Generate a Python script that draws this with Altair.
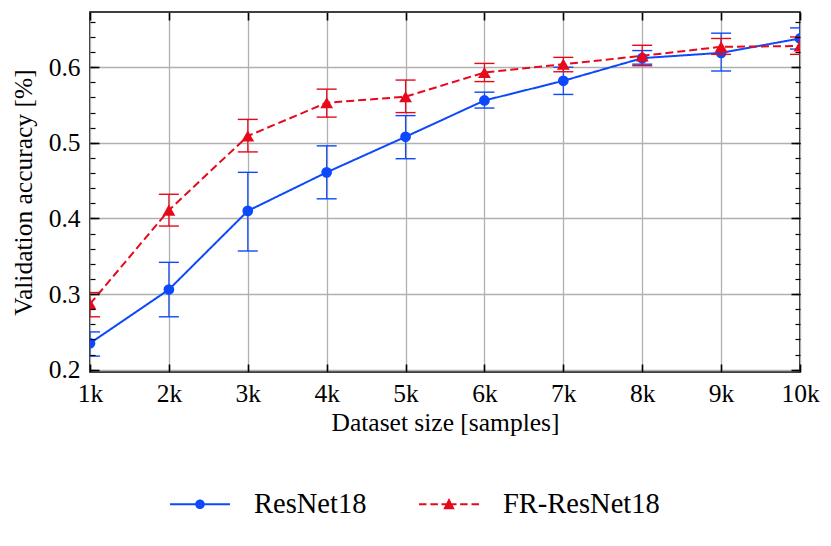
import altair as alt
import pandas as pd

# ---------------- data ----------------
sizes = [1000, 2000, 3000, 4000, 5000, 6000, 7000, 8000, 9000, 10000]

resnet_mean = [0.235, 0.306, 0.410, 0.461, 0.508, 0.556, 0.582, 0.612, 0.619, 0.638]
resnet_lo   = [0.218, 0.270, 0.357, 0.426, 0.479, 0.546, 0.564, 0.604, 0.595, 0.624]
resnet_hi   = [0.250, 0.342, 0.461, 0.496, 0.536, 0.567, 0.600, 0.622, 0.645, 0.652]

fr_mean = [0.287, 0.411, 0.509, 0.553, 0.561, 0.593, 0.604, 0.615, 0.627, 0.628]
fr_lo   = [0.270, 0.390, 0.488, 0.534, 0.540, 0.581, 0.594, 0.602, 0.617, 0.617]
fr_hi   = [0.302, 0.432, 0.531, 0.571, 0.583, 0.605, 0.613, 0.629, 0.638, 0.640]

series_names = ["ResNet18", "FR-ResNet18"]
series_colors = ["#0d49fb", "#e6091c"]

x_ticks = [1000, 2000, 3000, 4000, 5000, 6000, 7000, 8000, 9000, 10000]
y_major = [0.2, 0.3, 0.4, 0.5, 0.6]
y_minor = [0.2, 0.22, 0.24, 0.26, 0.28, 0.3, 0.32, 0.34, 0.36, 0.38, 0.4,
           0.42, 0.44, 0.46, 0.48, 0.5, 0.52, 0.54, 0.56, 0.58, 0.6, 0.62,
           0.64, 0.66]

FONT = "Liberation Serif"
XDOM = [1000, 10000]
YDOM = [0.197, 0.673]

xs = alt.Scale(domain=XDOM, nice=False, zero=False)
ys = alt.Scale(domain=YDOM, nice=False, zero=False)

# legend symbol paths (line + marker), unit box [-1,1]
P_RES = ("M-1,-0.035H1V0.035H-1Z "
         "M-0.16,0A0.16,0.16 0 1,1 0.16,0A0.16,0.16 0 1,1 -0.16,0Z")
P_FR = ("M-1,-0.035H-0.75V0.035H-1Z "
        "M-0.62,-0.035H-0.37V0.035H-0.62Z "
        "M-0.25,-0.035H0.25V0.035H-0.25Z "
        "M0.37,-0.035H0.62V0.035H0.37Z "
        "M0.75,-0.035H1V0.035H0.75Z "
        "M0,-0.21L0.19,0.17L-0.19,0.17Z")

# ---------------- axes ----------------
ax_x_main = alt.Axis(values=x_ticks, labelExpr="datum.value/1000 + 'k'",
                     title="Dataset size [samples]", grid=True, ticks=False,
                     domain=False, labelPadding=9, titlePadding=4,
                     labelFlush=False, labelOverlap=False, orient="bottom")
ax_y_main = alt.Axis(values=y_major, format=".1f",
                     title="Validation accuracy [%]", grid=True, ticks=False,
                     domain=False, labelPadding=10, titlePadding=12,
                     labelFlush=False, labelOverlap=False, orient="left")


def tick_axis(orient, values, size, width):
    return alt.Axis(orient=orient, values=values, labels=False, title=None,
                    grid=False, domain=False, ticks=True, tickSize=size,
                    tickWidth=width, tickColor="black", offset=-size, zindex=1)


ax_x_bot = tick_axis("bottom", x_ticks, 8, 1.6)
ax_x_top = tick_axis("top", x_ticks, 8, 1.6)
ax_y_lmaj = tick_axis("left", y_major, 9, 1.6)
ax_y_lmin = tick_axis("left", y_minor, 5, 1.2)
ax_y_rmaj = tick_axis("right", y_major, 9, 1.6)
ax_y_rmin = tick_axis("right", y_minor, 5, 1.2)

axis_plan = [
    (ax_x_main, ax_y_main),
    (ax_x_bot, ax_y_lmaj),
    (ax_x_top, ax_y_lmin),
    (None, ax_y_rmaj),
    (None, ax_y_rmin),
]


def series_layers(mean, lo, hi, color, shape, psize, dash, plan):
    df = pd.DataFrame({"size": sizes, "mean": mean, "lo": lo, "hi": hi})
    base = alt.Chart(df)
    layers = []

    def ax(i, k):
        if i < len(plan) and plan[i][k] is not None:
            return plan[i][k]
        return None

    def X(field, i):
        a = ax(i, 0)
        if a is None:
            return alt.X(field, type="quantitative", scale=xs, axis=None)
        return alt.X(field, type="quantitative", scale=xs, axis=a)

    def Y(field, i):
        a = ax(i, 1)
        if a is None:
            return alt.Y(field, type="quantitative", scale=ys, axis=None)
        return alt.Y(field, type="quantitative", scale=ys, axis=a)

    layers.append(base.mark_rule(color=color, strokeWidth=1.2, clip=True)
                  .encode(x=X("size", 0), y=Y("lo", 0), y2="hi"))
    layers.append(base.mark_tick(color=color, orient="horizontal", size=20,
                                 thickness=1.4, opacity=1, clip=True)
                  .encode(x=X("size", 1), y=Y("lo", 1)))
    layers.append(base.mark_tick(color=color, orient="horizontal", size=20,
                                 thickness=1.4, opacity=1, clip=True)
                  .encode(x=X("size", 2), y=Y("hi", 2)))
    layers.append(base.mark_line(color=color, strokeWidth=2, strokeDash=dash,
                                 clip=True)
                  .encode(x=X("size", 3), y=Y("mean", 3)))
    layers.append(base.mark_point(color=color, filled=True, shape=shape,
                                  size=psize, opacity=1, clip=True)
                  .encode(x=X("size", 4), y=Y("mean", 4)))
    return layers


blue = series_layers(resnet_mean, resnet_lo, resnet_hi, series_colors[0],
                     "circle", 115, [1, 0], axis_plan)
red = series_layers(fr_mean, fr_lo, fr_hi, series_colors[1],
                    "triangle-up", 165, [8, 4], [])


def make_legend():
    return alt.Legend(orient="none", legendX=80, legendY=462,
                      direction="horizontal", columns=2,
                      title=None, symbolSize=3600,
                      symbolOpacity=1, symbolStrokeWidth=0,
                      labelFont=FONT, labelFontSize=28.5,
                      labelColor="black", labelOffset=24,
                      columnPadding=52, labelLimit=0)


legend_df = pd.DataFrame({"series": series_names})
legend_layer = (
    alt.Chart(legend_df)
    .transform_filter("false")
    .mark_point(filled=True, opacity=1)
    .encode(
        color=alt.Color("series:N",
                        scale=alt.Scale(domain=series_names, range=series_colors),
                        legend=make_legend()),
        shape=alt.Shape("series:N",
                        scale=alt.Scale(domain=series_names, range=[P_RES, P_FR]),
                        legend=make_legend()),
    )
)

chart = (
    alt.layer(*blue, *red, legend_layer)
    .resolve_axis(x="independent", y="independent")
    .properties(width=710, height=360,
                padding={"left": 3, "top": 3, "right": 0, "bottom": 5})
    .configure_view(stroke="black", strokeWidth=1.6)
    .configure_axis(labelFont=FONT, titleFont=FONT, labelFontSize=25.5,
                    titleFontSize=25.5, titleFontWeight="normal",
                    labelColor="black", titleColor="black",
                    gridColor="#b0b0b0", gridWidth=1.3, gridOpacity=1)
)

chart.save("out.html", embed_options={"renderer": "svg", "actions": False})
